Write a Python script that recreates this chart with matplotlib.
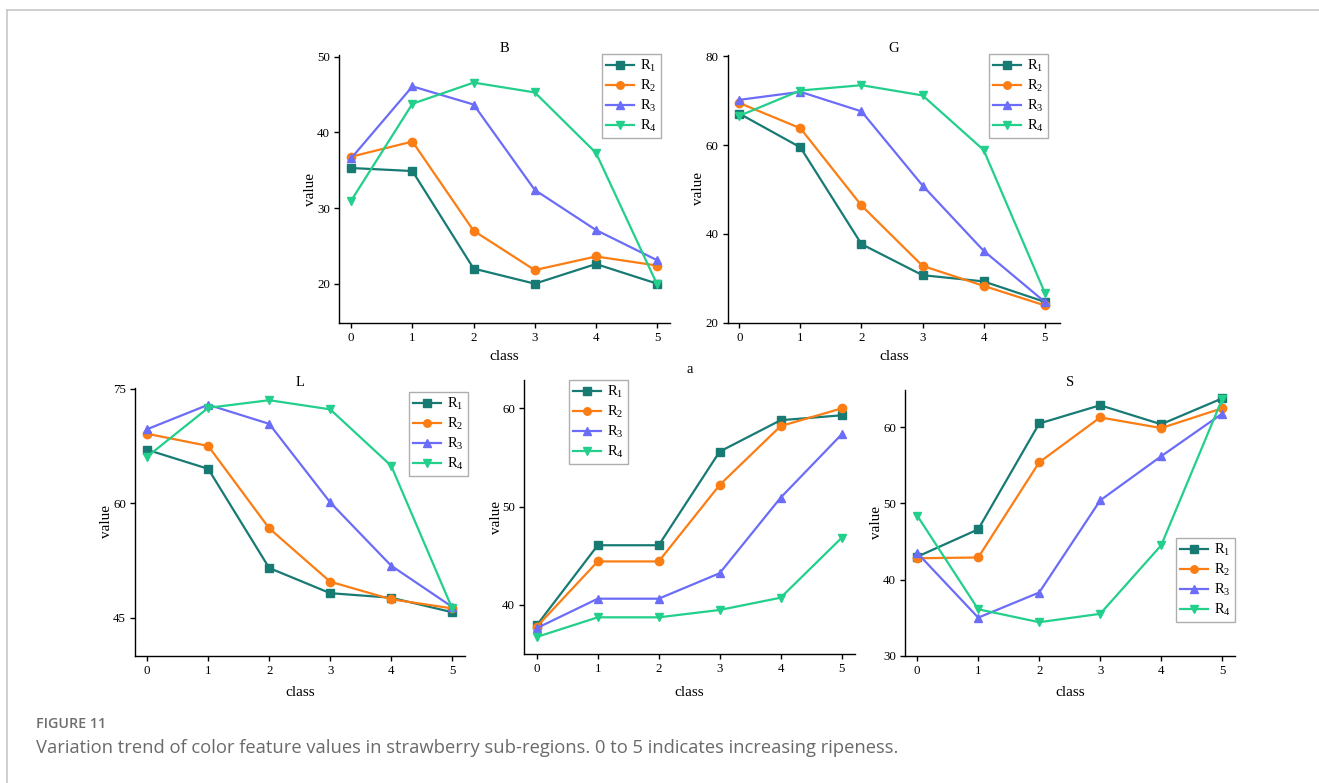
import matplotlib
matplotlib.use("Agg")
import matplotlib.pyplot as plt
from matplotlib.lines import Line2D

plt.rcParams['font.family'] = ['Liberation Serif', 'DejaVu Serif']
plt.rcParams['mathtext.fontset'] = 'custom'
plt.rcParams['mathtext.rm'] = 'Liberation Serif'
plt.rcParams['mathtext.it'] = 'Liberation Serif:italic'

classes = [0, 1, 2, 3, 4, 5]
series_names = ["R$_1$", "R$_2$", "R$_3$", "R$_4$"]

B_R1 = [35.3, 34.9, 22.0, 20.0, 22.6, 20.0]
B_R2 = [36.8, 38.8, 27.0, 21.8, 23.6, 22.4]
B_R3 = [36.6, 46.1, 43.7, 32.4, 27.1, 23.1]
B_R4 = [31.0, 43.8, 46.6, 45.3, 37.3, 19.9]

G_R1 = [67.1, 59.5, 37.7, 30.7, 29.3, 24.7]
G_R2 = [69.5, 63.8, 46.4, 32.8, 28.3, 23.9]
G_R3 = [70.2, 72.0, 67.6, 50.9, 36.2, 24.7]
G_R4 = [66.6, 72.3, 73.5, 71.2, 58.9, 26.8]

L_R1 = [67.0, 64.5, 51.5, 48.2, 47.6, 45.7]
L_R2 = [69.1, 67.5, 56.7, 49.7, 47.4, 46.2]
L_R3 = [69.7, 72.9, 70.4, 60.1, 51.8, 46.4]
L_R4 = [66.1, 72.5, 73.5, 72.3, 64.9, 46.2]

a_R1 = [37.9, 46.05, 46.05, 55.6, 58.8, 59.3]
a_R2 = [37.75, 44.4, 44.4, 52.2, 58.2, 60.0]
a_R3 = [37.6, 40.6, 40.6, 43.2, 50.9, 57.35]
a_R4 = [36.7, 38.7, 38.7, 39.45, 40.7, 46.8]

S_R1 = [43.0, 46.6, 60.5, 62.9, 60.4, 63.8]
S_R2 = [42.8, 42.9, 55.4, 61.3, 59.9, 62.5]
S_R3 = [43.5, 35.0, 38.3, 50.4, 56.2, 61.8]
S_R4 = [48.4, 36.1, 34.4, 35.5, 44.5, 63.7]

colors = ['#177b74', '#fb7d14', '#6b6cf8', '#22cf8b']
markers = ['s', 'o', '^', 'v']

W, H = 1319, 783
fig = plt.figure(figsize=(W / 100, H / 100), dpi=100)

def px_axes(l, t, r, b):
    return fig.add_axes([l / W, 1 - b / H, (r - l) / W, (b - t) / H])

# label positions given in figure pixels: (ylabel centre x, xlabel centre y, title centre y)
panels = [
    dict(title='B', data=[B_R1, B_R2, B_R3, B_R4], box=(339, 55, 670, 323),
         xlim=(-0.2, 5.21), ylim=(14.8, 50.25), yticks=[20, 30, 40, 50],
         leg=(601.7, 54), tpx=48, ylpx=310, xlpx=357),
    dict(title='G', data=[G_R1, G_R2, G_R3, G_R4], box=(727.7, 55, 1060, 322.7),
         xlim=(-0.19, 5.25), ylim=(20, 80.3), yticks=[20, 40, 60, 80],
         leg=(989, 54), tpx=48, ylpx=698, xlpx=357),
    dict(title='L', data=[L_R1, L_R2, L_R3, L_R4], box=(135, 388, 465, 655.7),
         xlim=(-0.2, 5.21), ylim=(40, 75.1), yticks=[45, 60, 75],
         leg=(409, 392), tpx=383, ylpx=107, xlpx=692),
    dict(title='a', data=[a_R1, a_R2, a_R3, a_R4], box=(524, 380, 855, 654.3),
         xlim=(-0.21, 5.22), ylim=(34.93, 62.9), yticks=[40, 50, 60],
         leg=(569, 380), tpx=370, ylpx=497, xlpx=692),
    dict(title='S', data=[S_R1, S_R2, S_R3, S_R4], box=(905, 390, 1235, 655.7),
         xlim=(-0.2, 5.21), ylim=(30, 64.9), yticks=[30, 40, 50, 60],
         leg=(1176, 538), tpx=382, ylpx=877, xlpx=692),
]

for p in panels:
    l, t, r, b = p['box']
    ax = px_axes(l, t, r, b)
    for vals, name, c, m in zip(p['data'], series_names, colors, markers):
        ax.plot(classes, vals, color=c, marker=m, markersize=6, linewidth=1.6,
                label=name)
    ax.set_xlim(*p['xlim'])
    ax.set_ylim(*p['ylim'])
    ax.set_xticks(classes)
    ax.set_yticks(p['yticks'])
    ax.spines['top'].set_visible(False)
    ax.spines['right'].set_visible(False)
    for s in ('left', 'bottom'):
        ax.spines[s].set_linewidth(1.0)
    ax.tick_params(direction='out', length=3.5, width=1.0, labelsize=9.3, pad=3)
    ax.set_title(p['title'], fontsize=10.5, y=(b - p['tpx']) / (b - t), pad=0, va='center')
    ax.set_ylabel('value', fontsize=11, va='center')
    ax.set_xlabel('class', fontsize=11, va='center')
    ax.yaxis.set_label_coords((p['ylpx'] - l) / (r - l), 0.5)
    ax.xaxis.set_label_coords(0.5, (b - p['xlpx']) / (b - t))
    lx, ly = p['leg']
    leg = ax.legend(loc='upper left', bbox_to_anchor=(lx / W, 1 - ly / H),
                    bbox_transform=fig.transFigure, borderaxespad=0,
                    fontsize=10.5, frameon=True, fancybox=False,
                    edgecolor='#9a9a9a', handlelength=1.9, handletextpad=0.4,
                    labelspacing=0.25, borderpad=0.3, markerscale=0.9)
    leg.get_frame().set_linewidth(1.0)

# page frame lines
fig.add_artist(Line2D([6.7 / W, 1.0], [1 - 9.5 / H, 1 - 9.5 / H],
                      transform=fig.transFigure, color='#c8c8c8', linewidth=1.2))
fig.add_artist(Line2D([6.7 / W, 6.7 / W], [0, 1 - 9.5 / H],
                      transform=fig.transFigure, color='#c8c8c8', linewidth=1.2))

fig.text(36 / W, 1 - 724 / H, 'FIGURE 11', family='Open Sans', fontweight='semibold',
         fontsize=10.3, color='#6e6e6e', va='center', ha='left')
fig.text(36 / W, 1 - 748 / H,
         'Variation trend of color feature values in strawberry sub-regions. '
         '0 to 5 indicates increasing ripeness.',
         family='Open Sans', fontsize=13.2, color='#6a6a6a', va='center', ha='left')

fig.savefig('out.png', dpi=100)
